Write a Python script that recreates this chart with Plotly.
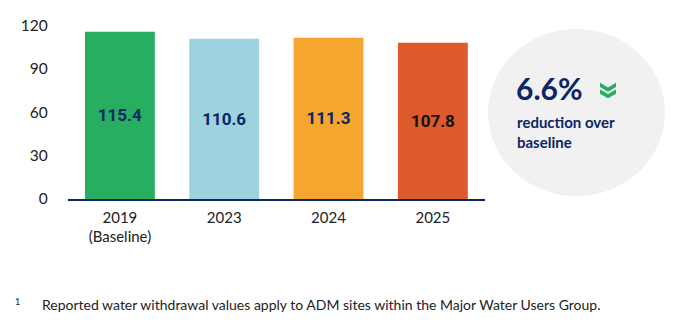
import plotly.graph_objects as go

categories = ["2019<br>(Baseline)", "2023", "2024", "2025"]
values = [115.4, 110.6, 111.3, 107.8]
bar_colors = ["#27AE60", "#9CD3DE", "#F4A62E", "#DD5A2B"]
label_colors = ["#0B2566", "#0B2566", "#0B2566", "#111111"]
y_ticks = [0, 30, 60, 90, 120]
headline = "6.6%"
subline = "reduction over<br>baseline"
footnote = "Reported water withdrawal values apply to ADM sites within the Major Water Users Group."

W, H = 676, 328
def px(x): return x / W
def py(y): return 1 - y / H

fig = go.Figure(go.Bar(
    x=categories, y=values,
    marker=dict(color=bar_colors, line=dict(width=0)),
    text=[f"{v:.1f}" for v in values],
    textposition="inside", insidetextanchor="middle",
    textfont=dict(family="Roboto", size=17, color=label_colors, weight="bold"),
    textangle=0, hoverinfo="skip",
))

fig.update_layout(
    width=W, height=H, margin=dict(l=0, r=0, t=0, b=0),
    paper_bgcolor="white", plot_bgcolor="white",
    bargap=0.33, showlegend=False,
    font=dict(family="Lato", color="#222222"),
    xaxis=dict(domain=[px(67.75), px(485)], range=[-0.5, 3.5],
               showline=True, linecolor="#0B2566", linewidth=1.5,
               ticks="", tickfont=dict(size=15, color="#222222"),
               ticklabelstandoff=4, fixedrange=True),
    yaxis=dict(domain=[py(200), py(16)], range=[0, 120],
               tickvals=y_ticks, showgrid=False, zeroline=False,
               showline=False, ticks="", tickfont=dict(size=15.5, color="#222222"),
               ticklabelstandoff=19, fixedrange=True),
)

# circle callout
cx, cy, r = 576.5, 108.5, 88.5
fig.add_shape(type="circle", xref="paper", yref="paper",
              x0=px(cx - r), x1=px(cx + r), y0=py(cy + r), y1=py(cy - r),
              fillcolor="#F1F1F1", line=dict(width=0), layer="below")

fig.add_annotation(xref="paper", yref="paper", x=px(514), y=py(83),
                   xanchor="left", yanchor="middle", showarrow=False,
                   text=f"<b>{headline}</b>",
                   font=dict(family="Lato", size=30, color="#0B2566"))
fig.add_annotation(xref="paper", yref="paper", x=px(515), y=py(129),
                   xanchor="left", yanchor="middle", showarrow=False,
                   text=f"<b>{subline}</b>", align="left",
                   font=dict(family="Lato", size=15, color="#0B2566"))

# double chevron icon
for dy in (0, 7):
    x0, y0 = 600, 77 + dy
    path = (f"M {px(x0)} {py(y0)} L {px(x0+8)} {py(y0+5)} L {px(x0+16)} {py(y0)} "
            f"L {px(x0+16)} {py(y0+4.5)} L {px(x0+8)} {py(y0+9.5)} L {px(x0)} {py(y0+4.5)} Z")
    fig.add_shape(type="path", xref="paper", yref="paper", path=path,
                  fillcolor="#27AE60", line=dict(width=0))

# footnote
fig.add_annotation(xref="paper", yref="paper", x=px(13), y=py(308),
                   xanchor="left", yanchor="middle", showarrow=False,
                   text="1", font=dict(family="Lato", size=9, color="#222222"))
fig.add_annotation(xref="paper", yref="paper", x=px(40), y=py(312),
                   xanchor="left", yanchor="middle", showarrow=False,
                   text=footnote, font=dict(family="Lato", size=14, color="#222222"))

fig.write_html("out.html")
